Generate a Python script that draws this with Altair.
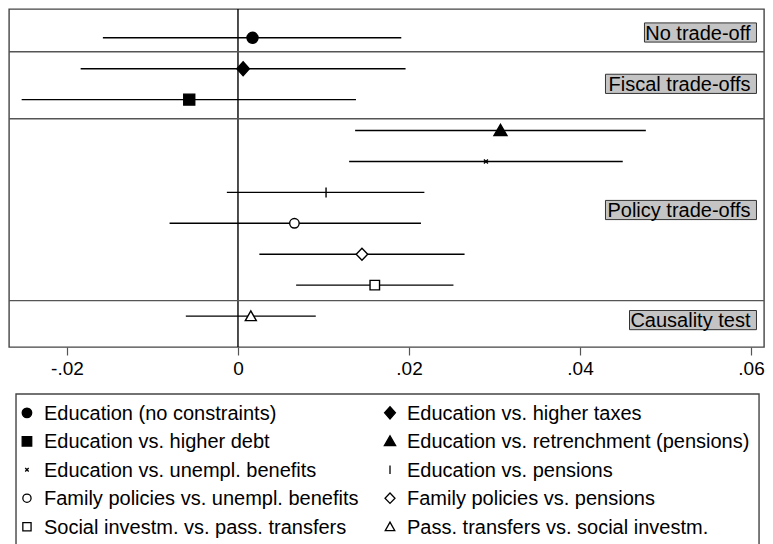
import altair as alt
import pandas as pd

# ---- data ----
labels = [
    "Education (no constraints)",
    "Education vs. higher taxes",
    "Education vs. higher debt",
    "Education vs. retrenchment (pensions)",
    "Education vs. unempl. benefits",
    "Education vs. pensions",
    "Family policies vs. unempl. benefits",
    "Family policies vs. pensions",
    "Social investm. vs. pass. transfers",
    "Pass. transfers vs. social investm.",
]
row_pos = [1, 2, 3, 4, 5, 6, 7, 8, 9, 10]
coef = [0.0017, 0.0006, -0.0057, 0.0307, 0.0290, 0.0103, 0.0066, 0.0145, 0.0160, 0.0015]
ci_low = [-0.0158, -0.0184, -0.0253, 0.0137, 0.0130, -0.0013, -0.0080, 0.0025, 0.0068, -0.0061]
ci_high = [0.0191, 0.0196, 0.0138, 0.0477, 0.0450, 0.0218, 0.0214, 0.0265, 0.0252, 0.0091]

# marker glyphs (unit paths, drawn at a fixed symbol size)
CIRCLE_F = "M-1.1,0A1.1,1.1,0,1,1,1.1,0A1.1,1.1,0,1,1,-1.1,0Z"
DIAMOND_F = "M0,-1.4L1.25,0L0,1.4L-1.25,0Z"
SQUARE_F = "M-1.1,-1.1L1.1,-1.1L1.1,1.1L-1.1,1.1Z"
TRI_F = "M0,-1.25L1.3,1L-1.3,1Z"
X_PATH = "M-0.4,-0.4L0.4,0.4M-0.4,0.4L0.4,-0.4"
BAR_PATH = "M0,-1L0,1"
CIRCLE_H = "M-0.95,0A0.95,0.95,0,1,1,0.95,0A0.95,0.95,0,1,1,-0.95,0Z"
DIAMOND_H = "M0,-1.2L1.15,0L0,1.2L-1.15,0Z"
SQUARE_H = "M-0.95,-0.95L0.95,-0.95L0.95,0.95L-0.95,0.95Z"
TRI_H = "M0,-1.05L1.1,0.9L-1.1,0.9Z"
shapes = [CIRCLE_F, DIAMOND_F, SQUARE_F, TRI_F, X_PATH, BAR_PATH,
          CIRCLE_H, DIAMOND_H, SQUARE_H, TRI_H]
fills = ["black", "black", "black", "black", "black", "black",
         "white", "white", "white", "white"]

# group separators and group labels
sep_pos = [1.45, 3.62, 9.5]
group_names = ["No trade-off", "Fiscal trade-offs", "Policy trade-offs", "Causality test"]
group_pos = [0.83, 2.49, 6.57, 10.13]
group_box_left = [0.04754, 0.04298, 0.04298, 0.04579]
group_box_right = [0.06064, 0.06064, 0.06064, 0.06064]

x_ticks = [-0.02, 0, 0.02, 0.04, 0.06]
x_domain = [-0.02678, 0.06152]
y_domain = [0.07, 11]

# legend layout below the plot (two columns, five rows), in plot units
legend_x = [-0.02468, 0.01778, -0.02468, 0.01778, -0.02468, 0.01778, -0.02468, 0.01778, -0.02468, 0.01778]
legend_y = [13.13, 13.13, 14.05, 14.05, 14.97, 14.97, 15.89, 15.89, 16.81, 16.81]
legend_box = {"left": [-0.02596], "right": [0.06094], "top": [12.52], "bot": [17.9]}

FONT = "Liberation Sans"

df = pd.DataFrame({
    "label": labels, "pos": row_pos, "coef": coef, "lo": ci_low, "hi": ci_high,
    "lx": legend_x, "ly": legend_y,
})
seps = pd.DataFrame({"pos": sep_pos})
groups = pd.DataFrame({
    "name": group_names, "pos": group_pos,
    "left": group_box_left, "right": group_box_right,
    "top": [p - 0.31 for p in group_pos], "bot": [p + 0.31 for p in group_pos],
})
lbox = pd.DataFrame(legend_box)
zero = pd.DataFrame({"zx": [0]})

xs = alt.Scale(domain=x_domain, nice=False, zero=False)
ys = alt.Scale(domain=y_domain, reverse=True, nice=False, zero=False)

xaxis = alt.Axis(
    values=x_ticks, grid=False, domain=False, tickSize=8, tickColor="#555",
    tickWidth=1.2, labelFontSize=19, labelColor="black", labelFont=FONT,
    labelPadding=4, title=None,
    labelExpr="datum.value == 0 ? '0' : (datum.value < 0 ? '-' : '') + replace(format(abs(datum.value), '.2f'), '0.', '.')",
)


def X(field):
    return alt.X(field, type="quantitative", scale=xs, axis=xaxis)


def Y(field):
    return alt.Y(field, type="quantitative", scale=ys, axis=None)


base = alt.Chart(df)

ci = base.mark_rule(color="black", strokeWidth=1.4).encode(
    x=X("lo"), x2="hi", y=Y("pos"),
)

zline = alt.Chart(zero).mark_rule(color="black", strokeWidth=1.4).encode(
    x=X("zx"),
)

sepl = alt.Chart(seps).mark_rule(color="#555", strokeWidth=1.4).encode(
    y=Y("pos"),
)

marker_layers = []
legend_layers = []
for lab, shp, fc in zip(labels, shapes, fills):
    sub = base.transform_filter(alt.datum.label == lab)
    marker_layers.append(
        sub.mark_point(shape=shp, filled=True, fill=fc, stroke="black",
                       strokeWidth=1.4, opacity=1, size=100).encode(
            x=X("coef"), y=Y("pos"))
    )
    legend_layers.append(
        sub.mark_point(shape=shp, filled=True, fill=fc, stroke="black",
                       strokeWidth=1.3, opacity=1, size=75).encode(
            x=X("lx"), y=Y("ly"))
    )

boxes = alt.Chart(groups).mark_rect(fill="#c4c4c4", stroke="#333", strokeWidth=1).encode(
    x=X("left"), x2="right", y=Y("top"), y2="bot",
)
gtext = alt.Chart(groups).mark_text(
    align="right", baseline="middle", font=FONT, fontSize=20, color="black", dx=-6, dy=1
).encode(
    x=X("right"), y=Y("pos"), text="name:N",
)

# legend (drawn below the plot through the same scales)
lframe = alt.Chart(lbox).mark_rect(fill="white", stroke="#444", strokeWidth=1.4).encode(
    x=X("left"), x2="right", y=Y("top"), y2="bot",
)
ltxt = base.mark_text(align="left", baseline="middle", font=FONT, fontSize=20,
                      color="black", dx=17, dy=1).encode(
    x=X("lx"), y=Y("ly"), text="label:N",
)

chart = alt.layer(
    zline, sepl, ci, *marker_layers, boxes, gtext, lframe, *legend_layers, ltxt
).properties(
    width=755, height=338,
    padding={"left": 1, "top": 1, "right": 1, "bottom": 200},
    autosize=alt.AutoSizeParams(type="none"),
).configure_view(stroke="#444", strokeWidth=1.4)

chart.save("out.html", embed_options={"renderer": "svg", "actions": False})
